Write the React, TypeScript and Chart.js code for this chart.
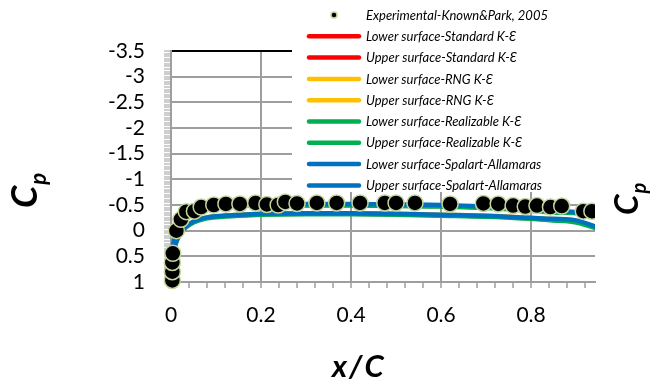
import React, { useEffect, useRef } from 'react';
import { Chart, registerables } from 'chart.js';

Chart.register(...registerables);

// ---------- data ----------
const expX = [0.003, 0.003, 0.003, 0.004, 0.012, 0.022, 0.034, 0.052, 0.067, 0.095, 0.122, 0.153, 0.188, 0.213, 0.238, 0.254, 0.28, 0.324, 0.368, 0.42, 0.475, 0.5, 0.542, 0.62, 0.694, 0.727, 0.76, 0.787, 0.813, 0.843, 0.868, 0.916, 0.935];
const expCp = [0.97, 0.8, 0.62, 0.44, 0.0, -0.22, -0.37, -0.38, -0.46, -0.5, -0.52, -0.52, -0.54, -0.51, -0.5, -0.56, -0.53, -0.54, -0.54, -0.54, -0.54, -0.54, -0.54, -0.52, -0.53, -0.52, -0.49, -0.47, -0.49, -0.46, -0.48, -0.38, -0.38];

const cfdX = [0, 0.0025, 0.005, 0.01, 0.02, 0.03, 0.05, 0.075, 0.1, 0.15, 0.2, 0.3, 0.4, 0.5, 0.6, 0.7, 0.8, 0.85, 0.9, 0.95, 1.0];
const stdLower = [1.0, 0.74, 0.5, 0.25, 0.06, -0.05, -0.17, -0.24, -0.27, -0.3, -0.32, -0.33, -0.33, -0.32, -0.3, -0.28, -0.24, -0.21, -0.18, -0.05, 0.1];
const stdUpper = [1.0, 0.6, 0.31, 0.06, -0.14, -0.26, -0.37, -0.43, -0.46, -0.49, -0.5, -0.5, -0.5, -0.49, -0.48, -0.45, -0.4, -0.36, -0.35, -0.25, 0.1];
const rngLower = [1.0, 0.74, 0.5, 0.25, 0.05, -0.06, -0.18, -0.25, -0.28, -0.31, -0.33, -0.34, -0.34, -0.33, -0.31, -0.29, -0.25, -0.22, -0.19, -0.05, 0.1];
const rngUpper = [1.0, 0.6, 0.3, 0.05, -0.15, -0.27, -0.38, -0.44, -0.47, -0.5, -0.51, -0.51, -0.51, -0.5, -0.49, -0.46, -0.41, -0.37, -0.36, -0.26, 0.1];
const realLower = [1.0, 0.76, 0.52, 0.27, 0.07, -0.04, -0.16, -0.23, -0.26, -0.29, -0.31, -0.32, -0.32, -0.31, -0.29, -0.27, -0.23, -0.2, -0.16, -0.03, 0.1];
const realUpper = [1.0, 0.62, 0.32, 0.07, -0.13, -0.25, -0.36, -0.42, -0.45, -0.48, -0.49, -0.49, -0.49, -0.48, -0.47, -0.44, -0.39, -0.35, -0.34, -0.24, 0.1];
const saLower = [1.0, 0.75, 0.5, 0.25, 0.05, -0.06, -0.18, -0.25, -0.28, -0.31, -0.33, -0.34, -0.34, -0.33, -0.31, -0.29, -0.25, -0.23, -0.2, -0.06, 0.1];
const saUpper = [1.0, 0.6, 0.3, 0.05, -0.15, -0.27, -0.38, -0.45, -0.48, -0.51, -0.52, -0.52, -0.52, -0.51, -0.5, -0.47, -0.42, -0.38, -0.36, -0.26, 0.1];

const seriesNames = [
  'Experimental-Known&Park, 2005',
  'Lower surface-Standard K-\u0190',
  'Upper surface-Standard K-\u0190',
  'Lower surface-RNG K-\u0190',
  'Upper surface-RNG K-\u0190',
  'Lower surface-Realizable K-\u0190',
  'Upper surface-Realizable K-\u0190',
  'Lower surface-Spalart-Allamaras',
  'Upper surface-Spalart-Allamaras',
];
const seriesColors = ['#000000', '#FF0000', '#FF0000', '#FFC000', '#FFC000', '#00B050', '#00B050', '#0070C0', '#0070C0'];
const cfdSeries = [stdLower, stdUpper, rngLower, rngUpper, realLower, realUpper, saLower, saUpper];
const cfdOrder = [4, 4, 3, 3, 2, 2, 1, 1];

const xMajorTicks = [0, 0.2, 0.4, 0.6, 0.8];
const yMajorTicks = [-3.5, -3, -2.5, -2, -1.5, -1, -0.5, 0, 0.5, 1];
const xTitle = 'x/C';
const yTitleMain = 'C';
const yTitleSub = 'p';

const GRID = '#9E9E9E';
const MARKER_EDGE = '#C3D69B';

const isMajor = (v: number, list: number[]) => list.some((m) => Math.abs(m - v) < 1e-6);

const overlayPlugin = {
  id: 'overlay',
  afterDraw(chart: any) {
    const ctx = chart.ctx as CanvasRenderingContext2D;
    ctx.save();
    // legend background
    ctx.fillStyle = '#ffffff';
    ctx.fillRect(292, 0, 306, 192);
    seriesNames.forEach((name, i) => {
      const y = 15 + i * 21.3;
      if (i === 0) {
        ctx.beginPath();
        ctx.arc(334, y, 3, 0, Math.PI * 2);
        ctx.fillStyle = '#000';
        ctx.fill();
        ctx.lineWidth = 1.5;
        ctx.strokeStyle = MARKER_EDGE;
        ctx.stroke();
      } else {
        ctx.beginPath();
        ctx.moveTo(309, y);
        ctx.lineTo(359, y);
        ctx.lineCap = 'round';
        ctx.lineWidth = 4.5;
        ctx.strokeStyle = seriesColors[i];
        ctx.stroke();
      }
      ctx.font = 'italic 13px Lato';
      ctx.fillStyle = '#000';
      ctx.textAlign = 'left';
      ctx.textBaseline = 'middle';
      ctx.fillText(name, 366, y + 0.5);
    });

    // x title
    ctx.font = 'italic bold 31px Lato';
    ctx.textAlign = 'left';
    ctx.textBaseline = 'alphabetic';
    ctx.fillStyle = '#000';
    (ctx as any).letterSpacing = '2px';
    ctx.fillText(xTitle, 332, 377);
    (ctx as any).letterSpacing = '0px';

    // y titles (left and clipped right copy)
    const drawCp = (bx: number, by: number, size: number) => {
      ctx.save();
      ctx.translate(bx, by);
      ctx.rotate(-Math.PI / 2);
      ctx.textAlign = 'left';
      ctx.textBaseline = 'alphabetic';
      ctx.font = `italic bold ${size}px Lato`;
      ctx.fillText(yTitleMain, 0, 0);
      const w = ctx.measureText(yTitleMain).width;
      ctx.font = `italic bold ${Math.round(size * 0.62)}px Lato`;
      ctx.fillText(yTitleSub, w + 1, size * 0.25);
      ctx.restore();
    };
    drawCp(37, 208, 36);
    drawCp(638, 215, 33);
    ctx.restore();
  },
};

export default function App() {
  const ref = useRef<HTMLCanvasElement | null>(null);

  useEffect(() => {
    if (!ref.current) return;
    const datasets: any[] = [
      {
        label: seriesNames[0],
        data: expX.map((x, i) => ({ x, y: expCp[i] })),
        showLine: false,
        pointRadius: 8,
        pointBorderWidth: 1.5,
        pointBackgroundColor: '#000',
        pointBorderColor: MARKER_EDGE,
        order: 0,
        clip: { left: false, top: false, right: 0, bottom: false },
      },
      ...cfdSeries.map((vals, k) => ({
        label: seriesNames[k + 1],
        data: cfdX.map((x, i) => ({ x, y: vals[i] })),
        showLine: true,
        borderColor: seriesColors[k + 1],
        backgroundColor: seriesColors[k + 1],
        borderWidth: 4.5,
        pointRadius: 0,
        tension: 0.3,
        order: cfdOrder[k],
        clip: { left: false, top: false, right: 0, bottom: false },
      })),
    ];

    const chart = new Chart(ref.current, {
      type: 'scatter',
      data: { datasets },
      options: {
        responsive: false,
        animation: false,
        devicePixelRatio: 1,
        layout: { padding: { top: 51, right: 56, left: 0, bottom: 0 } },
        plugins: { legend: { display: false }, tooltip: { enabled: false } },
        scales: {
          x: {
            type: 'linear',
            min: 0,
            max: 0.942,
            afterFit: (s: any) => { s.height = 106; },
            border: { display: true, color: GRID, width: 2 },
            grid: {
              color: (c: any) => (isMajor(c.tick.value, xMajorTicks) ? GRID : 'rgba(0,0,0,0)'),
              lineWidth: 2,
              tickColor: GRID,
              tickWidth: 1.5,
              tickLength: 6,
            },
            ticks: {
              stepSize: 0.04,
              includeBounds: false,
              autoSkip: false,
              maxRotation: 0,
              padding: 15,
              color: '#000',
              font: { family: 'Lato', size: 21 },
              callback: (v: any) => (isMajor(Number(v), xMajorTicks) ? String(Math.round(Number(v) * 10) / 10) : ''),
            },
          },
          y: {
            type: 'linear',
            reverse: true,
            min: -3.5,
            max: 1,
            afterFit: (s: any) => { s.width = 171; },
            border: { display: true, color: GRID, width: 2 },
            grid: {
              color: (c: any) => {
                const v = c.tick.value;
                if (Math.abs(v + 3.5) < 1e-6) return '#000';
                return isMajor(v, yMajorTicks) ? GRID : 'rgba(0,0,0,0)';
              },
              lineWidth: 2,
              tickColor: GRID,
              tickWidth: 1,
              tickLength: 7,
            },
            ticks: {
              stepSize: 0.05,
              autoSkip: false,
              padding: 19,
              color: '#000',
              font: { family: 'Lato', size: 21 },
              callback: (v: any) => (isMajor(Number(v), yMajorTicks) ? String(Math.round(Number(v) * 10) / 10) : ''),
            },
          },
        },
      },
      plugins: [overlayPlugin],
    });
    return () => chart.destroy();
  }, []);

  return (
    <div style={{ position: 'absolute', left: 0, top: 0, width: 651, height: 388, background: '#fff' }}>
      <canvas ref={ref} width={651} height={388} style={{ display: 'block' }} />
    </div>
  );
}
